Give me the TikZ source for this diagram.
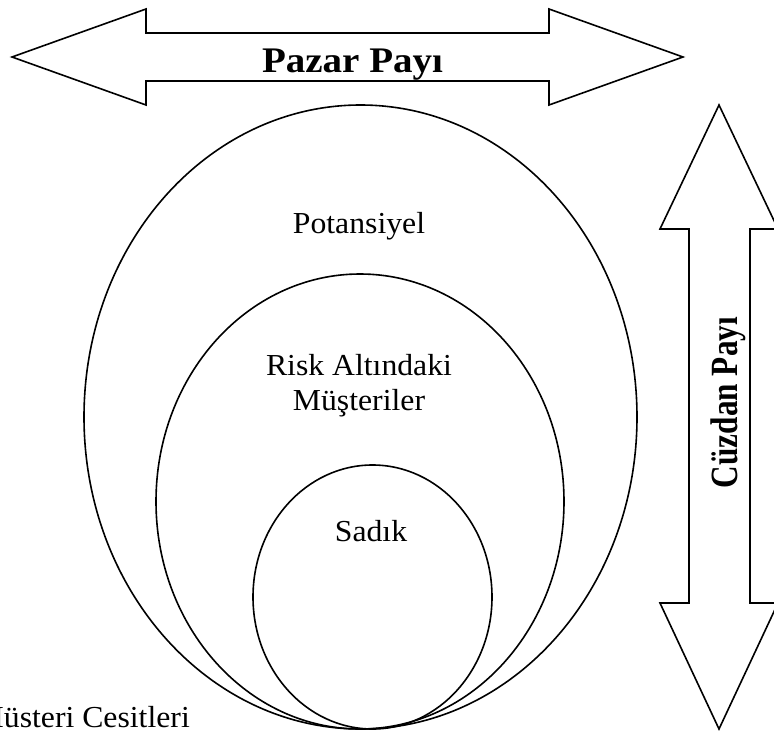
\documentclass[tikz,border=0pt]{standalone}
\usepackage{fontspec}
\setmainfont{Liberation Serif}
\newcommand{\widetxt}[1]{\scalebox{1.04}[1]{#1}}
\begin{document}
\begin{tikzpicture}[x=1pt,y=-1pt,
  outline/.style={draw=black, line width=1.6pt, line join=miter},
  lbl/.style={font=\fontsize{30.5}{35}\selectfont, inner sep=0pt, anchor=base},
  heading/.style={font=\bfseries\fontsize{36}{40}\selectfont, inner sep=0pt, anchor=base}]
\clip (0,0) rectangle (774,731);

% nested customer groups
\draw[outline] (360.5,417) ellipse [x radius=276.5, y radius=312];
\draw[outline] (360,501.5) ellipse [x radius=204, y radius=227.5];
\draw[outline] (372.5,597) ellipse [x radius=119.5, y radius=132];

% horizontal double arrow
\draw[outline] (12,57) -- (146,9) -- (146,33) -- (549,33) -- (549,9) -- (683,57)
  -- (549,105) -- (549,81) -- (146,81) -- (146,105) -- cycle;

% vertical double arrow
\draw[outline] (719,105) -- (778,229) -- (750,229) -- (750,603) -- (778,603) -- (719,729)
  -- (660,603) -- (689,603) -- (689,229) -- (660,229) -- cycle;

% labels
\node[heading] (pazar) at (352.5,72) {\scalebox{1.084}[1]{Pazar Payı}};
\node[heading, rotate=90] (cuzdan) at (737,402.5) {\scalebox{0.868}[1.07]{Cüzdan Payı}};
\node[lbl] (potansiyel) at (359,233) {\widetxt{Potansiyel}};
\node[lbl] (risk1) at (359,375) {\widetxt{Risk Altındaki}};
\node[lbl] (risk2) at (359,410) {\widetxt{Müşteriler}};
\node[lbl] (sadik) at (371,541.5) {\widetxt{Sadık}};
\node[lbl, anchor=base east] (caption) at (190,727) {\widetxt{Müsteri Cesitleri}};
\end{tikzpicture}
\end{document}
